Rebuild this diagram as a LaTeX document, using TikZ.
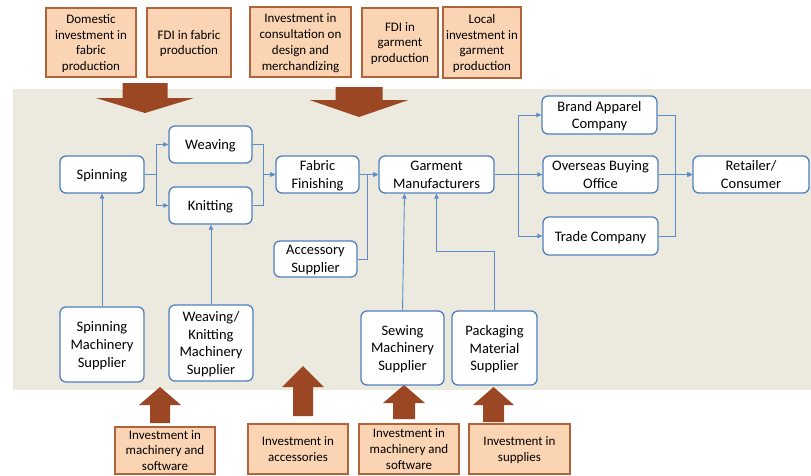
\documentclass[tikz,border=0pt]{standalone}
\usepackage{fontspec}
\setmainfont{Carlito}
\usetikzlibrary{arrows.meta}
\definecolor{chainblue}{HTML}{4F81BD}
\definecolor{linkblue}{HTML}{5C8DC8}
\definecolor{fundfill}{HTML}{FBD4B4}
\definecolor{fundedge}{HTML}{B0643C}
\definecolor{bigarrow}{HTML}{9B4724}
\definecolor{panel}{HTML}{ECE9DF}
\begin{document}
\begin{tikzpicture}[x=1pt, y=-1pt, >={Triangle[length=5pt,width=4.5pt]},
  stage/.style={draw=chainblue, line width=1.3pt, fill=white, rounded corners=6pt,
    align=center, inner sep=0pt, minimum width=84pt, minimum height=37pt,
    font=\fontsize{14.5}{17.6}\selectfont, text depth=-5pt},
  fund/.style={draw=fundedge, line width=1.1pt, fill=fundfill, align=center,
    inner sep=0pt, font=\fontsize{13}{15.7}\selectfont, text depth=-7pt},
  link/.style={draw=linkblue, line width=0.9pt, ->}]
  \useasboundingbox (0,0) rectangle (811,475);
  % value chain panel
  \fill[panel] (13,89) rectangle (811,390);
  % big investment arrows (down from the top, up from below)
  \foreach \x/\s/\w/\b/\h/\t in {145/22.5/49/83/98/113, 359/23.5/49.5/87/100/117,
      160/10/21/423/405/387, 303/10/21/416/387/366, 404/11/21/419/403/385, 493.5/10.5/20.5/422/405/387}
    \fill[bigarrow] (\x-\s,\b) -- (\x+\s,\b) -- (\x+\s,\h) -- (\x+\w,\h) -- (\x,\t)
      -- (\x-\w,\h) -- (\x-\s,\h) -- cycle;
  % investment boxes, top
  \node[fund, minimum width=90pt, minimum height=69pt] (domfab) at (91,42.5) {Domestic\\investment in\\fabric\\production};
  \node[fund, minimum width=84pt, minimum height=69pt] (fdifab) at (189,42.5) {FDI in fabric\\production};
  \node[fund, minimum width=101pt, minimum height=70pt] (consult) at (300.5,42) {Investment in\\consultation on\\design and\\merchandizing};
  \node[fund, minimum width=76pt, minimum height=69pt] (fdigar) at (400,42.5) {FDI in\\garment\\production};
  \node[fund, minimum width=78pt, minimum height=71pt] (locgar) at (482,42.5) {Local\\investment in\\garment\\production};
  % investment boxes, bottom
  \node[fund, minimum width=100pt, minimum height=47pt] (machA) at (165,450.5) {Investment in\\machinery and\\software};
  \node[fund, minimum width=100pt, minimum height=50pt] (access) at (298,449) {Investment in\\accessories};
  \node[fund, minimum width=100pt, minimum height=50pt] (machB) at (409,449) {Investment in\\machinery and\\software};
  \node[fund, minimum width=101pt, minimum height=50pt] (supply) at (519.5,449) {Investment in\\supplies};
  % chain stages
  \node[stage] (spin) at (102,174.5) {Spinning};
  \node[stage, minimum width=83pt] (weave) at (210.5,144.5) {Weaving};
  \node[stage, minimum width=83pt] (knit) at (210.5,205.5) {Knitting};
  \node[stage, minimum width=83pt] (fab) at (317.5,174.5) {Fabric\\Finishing};
  \node[stage, minimum width=83pt, minimum height=36pt] (acc) at (315.5,259) {Accessory\\Supplier};
  \node[stage, minimum width=115pt] (garm) at (436.5,174.5) {Garment\\Manufacturers};
  \node[stage, minimum width=115pt, minimum height=38pt] (brand) at (599.5,115) {Brand Apparel\\Company};
  \node[stage, minimum width=115pt] (overseas) at (600.5,174.5) {Overseas Buying\\Office};
  \node[stage, minimum width=115pt, minimum height=38pt] (trade) at (600.5,236) {Trade Company};
  \node[stage, minimum width=116pt] (retail) at (751,174.5) {Retailer/\\Consumer};
  % suppliers
  \node[stage, minimum height=75pt] (spinsup) at (102,344.5) {Spinning\\Machinery\\Supplier};
  \node[stage, minimum height=76pt] (wksup) at (211,343) {Weaving/\\Knitting\\Machinery\\Supplier};
  \node[stage, minimum width=83pt, minimum height=74pt] (sewsup) at (402.5,348) {Sewing\\Machinery\\Supplier};
  \node[stage, minimum width=85pt, minimum height=74pt] (packsup) at (494.5,348) {Packaging\\Material\\Supplier};
  % flows
  \draw[link] (spin.east) -- ++(12,0) |- (weave.west);
  \draw[link] (spin.east) -- ++(12,0) |- (knit.west);
  \draw[link] (weave.east) -| ([xshift=-12pt]fab.west) -- (fab.west);
  \draw[link] (knit.east) -| ([xshift=-12pt]fab.west) -- (fab.west);
  \draw[link] (fab.east) -- (garm.west);
  \draw[link] (acc.east) -| ([xshift=-11pt]garm.west) -- (garm.west);
  \draw[link] (garm.east) -- ++(24,0) |- (brand.west);
  \draw[link] (garm.east) -- (overseas.west);
  \draw[link] (garm.east) -- ++(24,0) |- (trade.west);
  \draw[link] (brand.east) -| ([xshift=-17pt]retail.west) -- (retail.west);
  \draw[link] (overseas.east) -- (retail.west);
  \draw[link] (trade.east) -| ([xshift=-17pt]retail.west) -- (retail.west);
  \draw[link] (spinsup.north) -- (spin.south);
  \draw[link] (wksup.north) -- (wksup.north |- knit.south);
  \draw[link] (sewsup.north) -- ([xshift=2pt]sewsup.north |- garm.south);
  \draw[link] (packsup.north) -- ++(0,-59) -| (garm.south);
\end{tikzpicture}
\end{document}
